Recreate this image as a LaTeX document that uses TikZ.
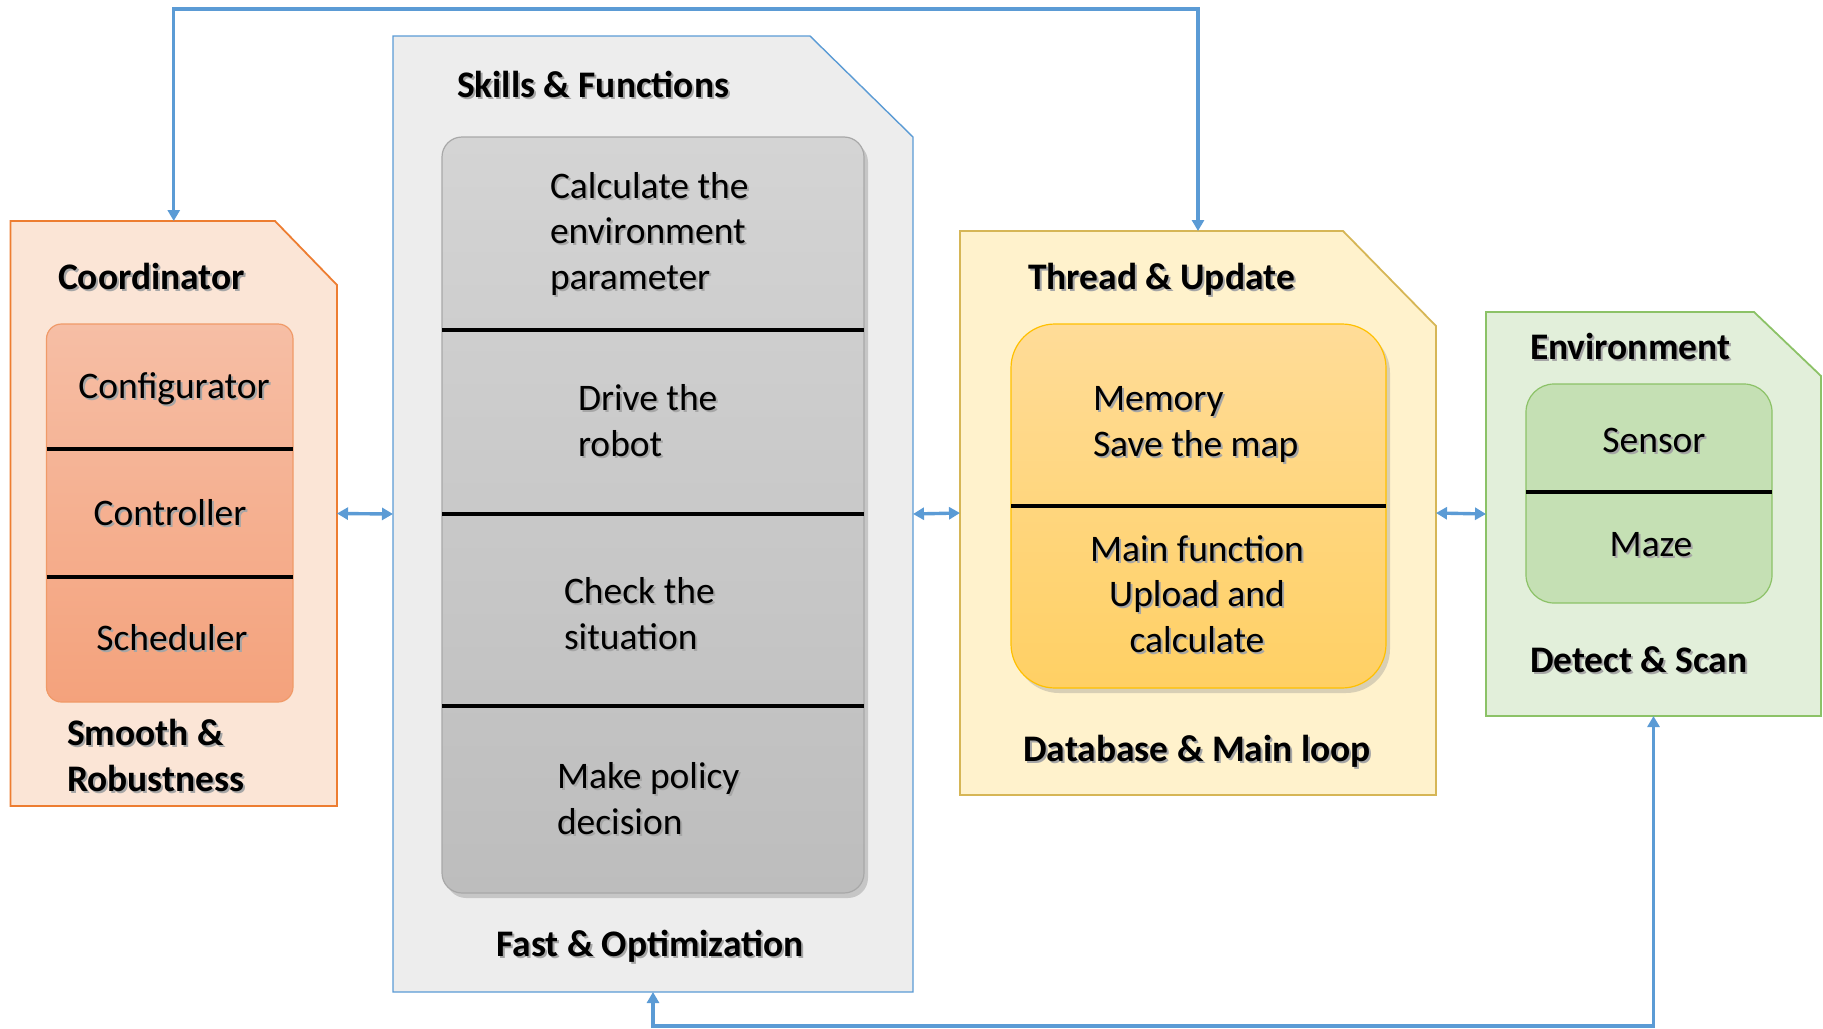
\documentclass[tikz,border=0pt]{standalone}
\usepackage{fontspec}
\setmainfont{Carlito}
\usetikzlibrary{arrows.meta,shadows}

\definecolor{arrowblue}{HTML}{5B9BD5}
\definecolor{coordFill}{HTML}{FBE5D6}
\definecolor{coordLine}{HTML}{ED7D31}
\definecolor{coordTop}{HTML}{F6BEA5}
\definecolor{coordBot}{HTML}{F4A27C}
\definecolor{coordEdge}{HTML}{F09A68}
\definecolor{skillFill}{HTML}{EDEDED}
\definecolor{skillTop}{HTML}{D4D4D4}
\definecolor{skillBot}{HTML}{BDBDBD}
\definecolor{skillEdge}{HTML}{A8A8A8}
\definecolor{threadFill}{HTML}{FFF2CC}
\definecolor{threadLine}{HTML}{D6B656}
\definecolor{threadTop}{HTML}{FFDC98}
\definecolor{threadBot}{HTML}{FFD064}
\definecolor{threadEdge}{HTML}{FFC000}
\definecolor{envFill}{HTML}{E2EFDA}
\definecolor{envLine}{HTML}{8CC267}
\definecolor{envInner}{HTML}{C5E0B4}

% text with a soft offset shadow
\newcommand\shd[1]{\leavevmode\rlap{\hspace{2pt}\raisebox{-2pt}{\color{black!35}#1}}#1}

\begin{document}
\begin{tikzpicture}[x=1pt,y=-1pt,
  region/.style={inner sep=0pt, outer sep=0pt, draw=none},
  txt/.style={inner sep=0pt, outer sep=0pt, align=left,
    font=\fontsize{37.5}{45.5}\selectfont},
  ttl/.style={txt, font=\fontsize{37.5}{45.5}\selectfont\bfseries},
  ctxt/.style={txt, align=center},
  divider/.style={line width=4.5pt, black},
  tip/.tip={Triangle[length=11pt,width=12pt]},
  conn/.style={draw=arrowblue, line width=3.4pt, tip-tip},
  stack/.style={inner sep=0pt, outer sep=0pt, line width=1.2pt}
]
\useasboundingbox (0,0) rectangle (1823,1028);

% ---------- outer regions (invisible anchors) ----------
\node[region, minimum width=326.5, minimum height=585] (coord) at (173.75,513.5) {};
\node[region, minimum width=520,   minimum height=956] (skills) at (653,514) {};
\node[region, minimum width=476,   minimum height=564] (thread) at (1198,513) {};
\node[region, minimum width=335,   minimum height=404] (env) at (1653.5,514) {};

% ---------- folded-corner outlines ----------
\draw[coordLine, fill=coordFill, line width=1.8pt]
  (coord.south west) |- ([xshift=-62pt]coord.north east)
  -- ([yshift=-64pt]coord.north east) |- cycle;
\draw[arrowblue, fill=skillFill, line width=1.4pt]
  (skills.south west) |- ([xshift=-103pt]skills.north east)
  -- ([yshift=-101pt]skills.north east) |- cycle;
\draw[threadLine, fill=threadFill, line width=1.8pt]
  (thread.south west) |- ([xshift=-93pt]thread.north east)
  -- ([yshift=-95pt]thread.north east) |- cycle;
\draw[envLine, fill=envFill, line width=1.8pt]
  (env.south west) |- ([xshift=-67pt]env.north east)
  -- ([yshift=-64pt]env.north east) |- cycle;

% ---------- inner stacks ----------
\node[stack, draw=coordEdge, top color=coordTop, bottom color=coordBot,
  rounded corners=15pt, minimum width=246.5, minimum height=378] (cstack) at (169.75,513) {};
\node[stack, draw=skillEdge, top color=skillTop, bottom color=skillBot,
  rounded corners=20pt, minimum width=422, minimum height=756,
  drop shadow={shadow xshift=4pt, shadow yshift=-5pt, opacity=0.35}] (sstack) at (653,515) {};
\node[stack, draw=threadEdge, top color=threadTop, bottom color=threadBot,
  rounded corners=44pt, minimum width=375, minimum height=364,
  drop shadow={shadow xshift=4pt, shadow yshift=-5pt, opacity=0.3}] (tstack) at (1198.5,506) {};
\node[stack, draw=envLine, fill=envInner,
  rounded corners=28pt, minimum width=246, minimum height=219] (estack) at (1649,493.5) {};

% ---------- dividers ----------
\draw[divider] (cstack.west |- 0,449) -- (cstack.east |- 0,449);
\draw[divider] (cstack.west |- 0,577) -- (cstack.east |- 0,577);
\draw[divider] (sstack.west |- 0,330) -- (sstack.east |- 0,330);
\draw[divider] (sstack.west |- 0,514) -- (sstack.east |- 0,514);
\draw[divider] (sstack.west |- 0,706) -- (sstack.east |- 0,706);
\draw[divider] (tstack.west |- 0,506) -- (tstack.east |- 0,506);
\draw[divider] (estack.west |- 0,492) -- (estack.east |- 0,492);

% ---------- Coordinator texts (multi-line nodes sit on their last baseline) ----------
\node[ttl, anchor=base west] (coordT) at (58,289) {\shd{Coordinator}};
\node[txt, anchor=base] (cfg) at (174,398) {\shd{Configurator}};
\node[txt, anchor=base] (ctl) at (170,525) {\shd{Controller}};
\node[txt, anchor=base] (sch) at (172,650) {\shd{Scheduler}};
\node[ttl, anchor=base west] (coordB) at (67,791) {\shd{Smooth \&}\\\shd{Robustness}};

% ---------- Skills texts ----------
\node[ttl, anchor=base west] (skillsT) at (457,97) {\shd{Skills \& Functions}};
\node[txt, anchor=base west] (calc) at (550,289) {\shd{Calculate the}\\\shd{environment}\\\shd{parameter}};
\node[txt, anchor=base west] (drive) at (578,456) {\shd{Drive the}\\\shd{robot}};
\node[txt, anchor=base west] (check) at (564,649) {\shd{Check the}\\\shd{situation}};
\node[txt, anchor=base west] (policy) at (557,834) {\shd{Make policy}\\\shd{decision}};
\node[ttl, anchor=base] (skillsB) at (650,956) {\shd{Fast \& Optimization}};

% ---------- Thread texts ----------
\node[ttl, anchor=base west] (threadT) at (1028,289) {\shd{Thread \& Update}};
\node[txt, anchor=base west] (mem) at (1093,456) {\shd{Memory}\\\shd{Save the map}};
\node[ctxt, anchor=base] (mainf) at (1197,652) {\shd{Main function}\\\shd{Upload and}\\\shd{calculate}};
\node[ttl, anchor=base] (threadB) at (1197,761) {\shd{Database \& Main loop}};

% ---------- Environment texts ----------
\node[ttl, anchor=base west] (envT) at (1530,359) {\shd{Environment}};
\node[txt, anchor=base] (sensor) at (1654,452) {\shd{Sensor}};
\node[txt, anchor=base] (maze) at (1651,556) {\shd{Maze}};
\node[ttl, anchor=base west] (envB) at (1530,672) {\shd{Detect \& Scan}};

% ---------- connectors ----------
\coordinate (topline) at (0,9);
\coordinate (botline) at (0,1026);
\draw[conn] (coord.east) -- (skills.west);
\draw[conn] (skills.east) -- (thread.west);
\draw[conn] (thread.east) -- (env.west);
\draw[conn] (coord.north) -- (coord.north |- topline) -- (thread.north |- topline) -- (thread.north);
\draw[conn] (skills.south) -- (skills.south |- botline) -- (env.south |- botline) -- (env.south);
\end{tikzpicture}
\end{document}
